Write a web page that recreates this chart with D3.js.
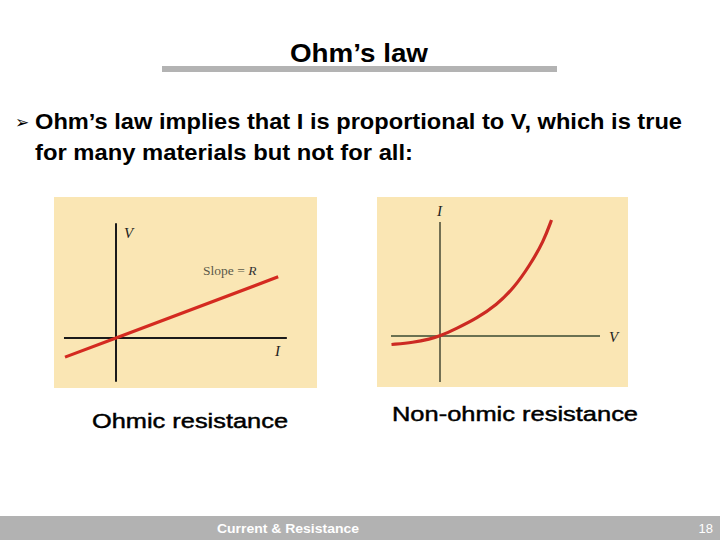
<!DOCTYPE html>
<html><head><meta charset="utf-8">
<script src="https://cdn.jsdelivr.net/npm/d3@7"></script>
<style>body{margin:0;background:#fff}svg{display:block}</style>
</head><body>
<svg id="c" width="720" height="540"></svg>
<script>
// ---- data ----
const titleText = "Ohm\u2019s law";
const bulletLines = ["Ohm\u2019s law implies that I is proportional to V, which is true", "for many materials but not for all:"];
const footerText = "Current & Resistance";
const pageNumber = "18";
const panelTitles = ["Ohmic resistance", "Non-ohmic resistance"];
// Ohmic: V vs I (straight line, slope R)
const ohmicI = [-1, 0, 3.18];
const ohmicV = [-0.375, 0, 1.2];
// Non-ohmic: I vs V
const nonOhmicV = [-0.97, -0.53, -0.2, 0, 0.33, 0.73, 1.13, 1.47, 1.8, 2.07, 2.23];
const nonOhmicI = [-0.17, -0.13, -0.06, 0, 0.15, 0.35, 0.62, 0.95, 1.42, 1.89, 2.32];

const svg = d3.select("#c");
const F = "Liberation Sans, Arial, sans-serif";
const SERIF = "Liberation Serif, Times New Roman, serif";

// title
svg.append("text").attr("x", 290).attr("y", 62)
  .attr("font-family", F).attr("font-weight", "bold").attr("font-size", 26).attr("fill", "#000")
  .attr("textLength", 138).attr("lengthAdjust", "spacingAndGlyphs").text(titleText);
svg.append("rect").attr("x", 162).attr("y", 66).attr("width", 395).attr("height", 6).attr("fill", "#b3b3b3");

// bullet
svg.append("text").attr("x", 15).attr("y", 128).attr("font-family", "DejaVu Sans, sans-serif")
  .attr("font-size", 17).attr("fill", "#000").text("\u27A2");
const bulletLen = [647, 378];
bulletLines.forEach((t, i) => {
  svg.append("text").attr("x", 35).attr("y", 129 + i * 31).attr("font-family", F)
    .attr("font-weight", "bold").attr("font-size", 22).attr("fill", "#000")
    .attr("textLength", bulletLen[i]).attr("lengthAdjust", "spacingAndGlyphs").text(t);
});

// ---- left panel ----
svg.append("rect").attr("x", 54).attr("y", 197).attr("width", 263).attr("height", 191).attr("fill", "#fae6b4");
const xL = d3.scaleLinear().domain([0, 1]).range([116, 167]);
const yL = d3.scaleLinear().domain([0, 1]).range([338, 287]);
svg.append("line").attr("x1", xL(-1.02)).attr("x2", xL(3.35)).attr("y1", yL(0)).attr("y2", yL(0))
  .attr("stroke", "#1a1a1a").attr("stroke-width", 2);
svg.append("line").attr("x1", xL(0)).attr("x2", xL(0)).attr("y1", yL(2.25)).attr("y2", yL(-0.86))
  .attr("stroke", "#1a1a1a").attr("stroke-width", 2);
const lineL = d3.line().x(d => xL(d[0])).y(d => yL(d[1]));
svg.append("path").datum(d3.zip(ohmicI, ohmicV)).attr("d", lineL).attr("fill", "none")
  .attr("stroke", "#d42a20").attr("stroke-width", 3.2);
svg.append("text").attr("x", 124).attr("y", 238).attr("font-family", SERIF).attr("font-style", "italic")
  .attr("font-size", 15).attr("fill", "#222").text("V");
svg.append("text").attr("x", 275).attr("y", 356).attr("font-family", SERIF).attr("font-style", "italic")
  .attr("font-size", 15).attr("fill", "#222").text("I");
const sl = svg.append("text").attr("x", 203).attr("y", 275).attr("font-family", SERIF)
  .attr("font-size", 13.5).attr("fill", "#5a5a4a");
sl.append("tspan").text("Slope = ");
sl.append("tspan").attr("font-style", "italic").attr("fill", "#333").text("R");

// ---- right panel ----
svg.append("rect").attr("x", 377).attr("y", 197).attr("width", 251).attr("height", 190).attr("fill", "#fae6b4");
const xR = d3.scaleLinear().domain([0, 1]).range([440, 490]);
const yR = d3.scaleLinear().domain([0, 1]).range([336, 286]);
svg.append("line").attr("x1", xR(-0.98)).attr("x2", xR(3.2)).attr("y1", yR(0)).attr("y2", yR(0))
  .attr("stroke", "#3a4a30").attr("stroke-width", 1.3);
svg.append("line").attr("x1", xR(0)).attr("x2", xR(0)).attr("y1", yR(2.28)).attr("y2", yR(-0.92))
  .attr("stroke", "#2a3020").attr("stroke-width", 1.3);
const lineR = d3.line().x(d => xR(d[0])).y(d => yR(d[1])).curve(d3.curveBasis);
svg.append("path").datum(d3.zip(nonOhmicV, nonOhmicI)).attr("d", lineR).attr("fill", "none")
  .attr("stroke", "#cc2a22").attr("stroke-width", 3.2);
svg.append("text").attr("x", 437).attr("y", 216).attr("font-family", SERIF).attr("font-style", "italic")
  .attr("font-size", 15).attr("fill", "#222").text("I");
svg.append("text").attr("x", 609).attr("y", 342).attr("font-family", SERIF).attr("font-style", "italic")
  .attr("font-size", 15).attr("fill", "#222").text("V");

// panel titles
svg.append("text").attr("x", 92).attr("y", 428).attr("font-family", F).attr("font-size", 20.5)
  .attr("fill", "#000").attr("stroke", "#000").attr("stroke-width", 0.45)
  .attr("textLength", 196).attr("lengthAdjust", "spacingAndGlyphs").text(panelTitles[0]);
svg.append("text").attr("x", 392).attr("y", 421).attr("font-family", F).attr("font-size", 20.5)
  .attr("fill", "#000").attr("stroke", "#000").attr("stroke-width", 0.45)
  .attr("textLength", 246).attr("lengthAdjust", "spacingAndGlyphs").text(panelTitles[1]);

// footer
svg.append("rect").attr("x", 0).attr("y", 516).attr("width", 720).attr("height", 24).attr("fill", "#b2b2b2");
svg.append("text").attr("x", 217).attr("y", 533).attr("font-family", F).attr("font-weight", "bold")
  .attr("font-size", 13).attr("fill", "#fff")
  .attr("textLength", 142).attr("lengthAdjust", "spacingAndGlyphs").text(footerText);
svg.append("text").attr("x", 713).attr("y", 533).attr("text-anchor", "end").attr("font-family", F)
  .attr("font-size", 13).attr("fill", "#fff").text(pageNumber);
</script>
</body></html>
